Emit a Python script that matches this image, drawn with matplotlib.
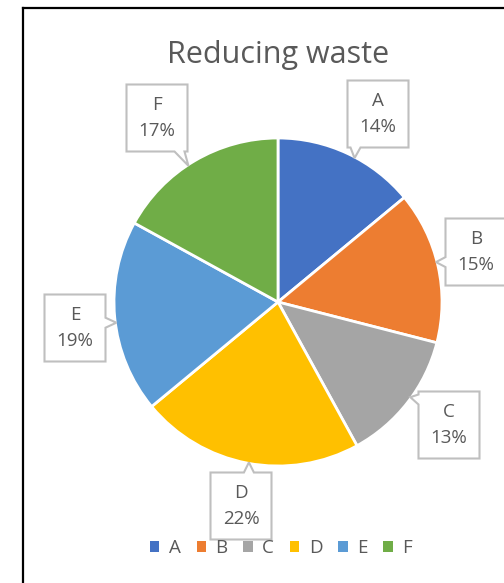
import numpy as np
import matplotlib.pyplot as plt
from matplotlib.patches import Polygon, Patch
from matplotlib.lines import Line2D

# data
labels = ['A', 'B', 'C', 'D', 'E', 'F']
shares = [14, 15, 13, 22, 19, 17]
colors = ['#4472C4', '#ED7D31', '#A5A5A5', '#FFC000', '#5B9BD5', '#70AD47']
title = 'Reducing waste'

# layout (pixels, y from top)
W, H = 504, 583
cx, cy, r = 278, 302, 164
box_xy = [(378, 114), (476, 252), (449, 425), (241, 506), (75, 328), (157, 118)]
bw, bh = 61, 67

plt.rcParams['font.family'] = ['Open Sans', 'DejaVu Sans']
fig = plt.figure(figsize=(W / 100, H / 100), dpi=100)
ax = fig.add_axes([0, 0, 1, 1])

wedges, _ = ax.pie(shares, colors=colors, startangle=90, counterclock=False,
                   center=(cx, H - cy), radius=r,
                   wedgeprops=dict(edgecolor='white', linewidth=2))
ax.set_xlim(0, W)
ax.set_ylim(0, H)
ax.set_aspect('equal')
ax.axis('off')

ax.text(cx, H - 55, title, ha='center', va='center', fontsize=22, color='#595959')


def callout(bx, by, tx, ty):
    x0, x1 = bx - bw / 2, bx + bw / 2
    y0, y1 = by - bh / 2, by + bh / 2
    dx, dy = tx - bx, ty - by
    if abs(dx) / (bw / 2) > abs(dy) / (bh / 2):
        side = 'right' if dx > 0 else 'left'
        m = min(max(ty, y0 + 8), y1 - 8)
    else:
        side = 'top' if dy > 0 else 'bottom'
        m = min(max(tx, x0 + 8), x1 - 8)
    n = 5
    pts = [(x0, y0)]
    if side == 'bottom':
        pts += [(m - n, y0), (tx, ty), (m + n, y0)]
    pts += [(x1, y0)]
    if side == 'right':
        pts += [(x1, m - n), (tx, ty), (x1, m + n)]
    pts += [(x1, y1)]
    if side == 'top':
        pts += [(m + n, y1), (tx, ty), (m - n, y1)]
    pts += [(x0, y1)]
    if side == 'left':
        pts += [(x0, m + n), (tx, ty), (x0, m - n)]
    return pts


for w, lab, s, (bx, by) in zip(wedges, labels, shares, box_xy):
    byd = H - by
    t1, t2 = w.theta1, w.theta2
    mid = (t1 + t2) / 2
    a = np.degrees(np.arctan2(byd - (H - cy), bx - cx))
    a = mid + ((a - mid + 180) % 360 - 180)
    a = np.deg2rad(np.clip(a, t1 + 2, t2 - 2))
    tx = cx + (r - 1) * np.cos(a)
    ty = (H - cy) + (r - 1) * np.sin(a)
    pts = callout(bx, byd, tx, ty)
    ax.add_patch(Polygon(pts, closed=True, facecolor='white', edgecolor='#BFBFBF',
                         linewidth=1.5, zorder=5))
    ax.text(bx, byd, '%s\n%d%%' % (lab, s), ha='center', va='center',
            fontsize=13.5, color='#595959', linespacing=1.55, zorder=6)

handles = [Patch(facecolor=c, edgecolor='none') for c in colors]
fig.legend(handles=handles, labels=labels, loc='center',
           bbox_to_anchor=(281 / W, 1 - 548 / H), ncol=6, frameon=False,
           handlelength=0.5, handleheight=0.5, handletextpad=0.5,
           columnspacing=0.85, fontsize=13.5, labelcolor='#595959')

# chart border (only top and left visible)
fig.add_artist(Line2D([23 / W, 1], [1 - 8 / H, 1 - 8 / H], color='black', lw=1.6,
                      transform=fig.transFigure))
fig.add_artist(Line2D([23 / W, 23 / W], [0, 1 - 8 / H], color='black', lw=1.6,
                      transform=fig.transFigure))

fig.savefig('out.png', dpi=100)
